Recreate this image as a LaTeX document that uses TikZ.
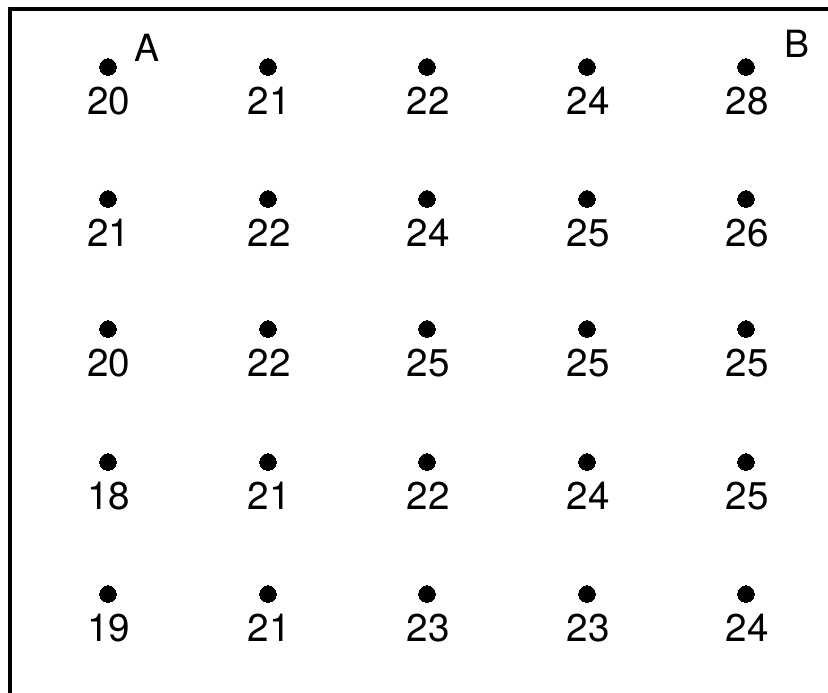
\documentclass[tikz,border=0pt]{standalone}
\usepackage{fontspec}
\setmainfont{TeX Gyre Heros}
\begin{document}
\begin{tikzpicture}[x=0.03cm,y=-0.03cm,
  dot/.style={circle,fill=black,draw=black,line width=0pt,inner sep=0pt,minimum size=0.5cm},
  num/.style={font=\fontsize{33}{34}\selectfont,inner sep=0pt},
  lbl/.style={font=\fontsize{32}{34}\selectfont,inner sep=0pt}]
\useasboundingbox (0,0) rectangle (828,693);
\draw[line width=3pt] (10,693) -- (10,9) -- (828,9);
\def\xs{{108,268,427,587,746}}
\def\ys{{67,199,329,462,594}}
\foreach \r/\vals in {0/{20,21,22,24,28},1/{21,22,24,25,26},2/{20,22,25,25,25},3/{18,21,22,24,25},4/{19,21,23,23,24}}{
  \foreach \v [count=\c from 0] in \vals {
    \pgfmathsetmacro\xx{\xs[\c]}
    \pgfmathsetmacro\yy{\ys[\r]}
    \node[dot] (d\r\c) at (\xx,\yy) {};
    \node[num] (n\r\c) at (\xx+1,\yy+34) {\v};
  }
}
\node[lbl] (A) at (147,48) {A};
\node[lbl] (B) at (797,44) {B};
\end{tikzpicture}
\end{document}
